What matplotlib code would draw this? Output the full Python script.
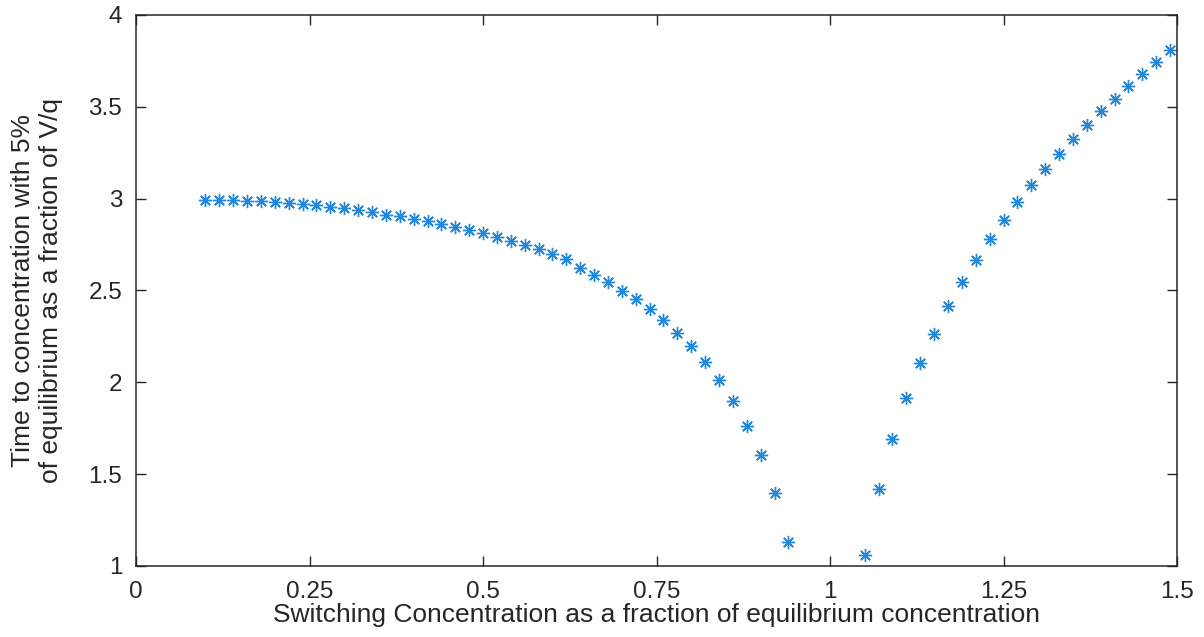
import numpy as np
import matplotlib
matplotlib.use("Agg")
import matplotlib.pyplot as plt

# switching concentration (fraction of equilibrium) below and above equilibrium
x_below = np.round(np.arange(0.10, 0.9401, 0.02), 2)
x_above = np.round(np.arange(1.05, 1.4901, 0.02), 2)

# time to reach 5% of equilibrium, as fraction of V/q
t_below = [2.995, 2.992, 2.990, 2.988, 2.986, 2.981, 2.976, 2.970, 2.963, 2.956,
           2.948, 2.939, 2.926, 2.913, 2.903, 2.890, 2.878, 2.863, 2.847, 2.828,
           2.811, 2.791, 2.771, 2.748, 2.725, 2.699, 2.670, 2.621, 2.585, 2.545,
           2.499, 2.453, 2.398, 2.340, 2.271, 2.198, 2.109, 2.013, 1.899, 1.764,
           1.605, 1.399, 1.132]
t_above = [1.060, 1.419, 1.693, 1.913, 2.104, 2.264, 2.416, 2.545, 2.667, 2.779,
           2.885, 2.984, 3.075, 3.161, 3.244, 3.326, 3.402, 3.475, 3.544, 3.611,
           3.680, 3.743, 3.807]

xticks = [0, 0.25, 0.5, 0.75, 1, 1.25, 1.5]
xticklabels = ["0", "0.25", "0.5", "0.75", "1", "1.25", "1.5"]
yticks = [1, 1.5, 2, 2.5, 3, 3.5, 4]
yticklabels = ["1", "1.5", "2", "2.5", "3", "3.5", "4"]

plt.rcParams['font.family'] = ['Liberation Sans', 'DejaVu Sans']
dark = '#262626'
blue = '#2188dc'

fig = plt.figure(figsize=(12.04, 6.37), dpi=100)
ax = fig.add_axes([0.113, 0.1115, 0.8646, 0.865])

ax.plot(x_below, t_below, linestyle='none', marker=(8, 2, 0), ms=9.5,
        mec=blue, mew=1.0)
ax.plot(x_above, t_above, linestyle='none', marker=(8, 2, 0), ms=9.5,
        mec=blue, mew=1.0)

ax.set_xlim(0, 1.5)
ax.set_ylim(1, 4)
ax.set_xticks(xticks)
ax.set_xticklabels(xticklabels)
ax.set_yticks(yticks)
ax.set_yticklabels(yticklabels)

ax.tick_params(direction='in', length=7, width=1, color=dark, labelcolor=dark,
               labelsize=17.5, top=True, right=True)
ax.tick_params(axis='y', pad=10)
ax.tick_params(axis='x', pad=11)
for s in ax.spines.values():
    s.set_color(dark)
    s.set_linewidth(1.1)

ax.set_xlabel('Switching Concentration as a fraction of equilibrium concentration',
              fontsize=19, color=dark, labelpad=0)
ax.set_ylabel('Time to concentration with 5%\nof equilibrium as a fraction of V/q',
              fontsize=19, color=dark, labelpad=18, linespacing=1.22)

fig.savefig('out.png', dpi=100)
